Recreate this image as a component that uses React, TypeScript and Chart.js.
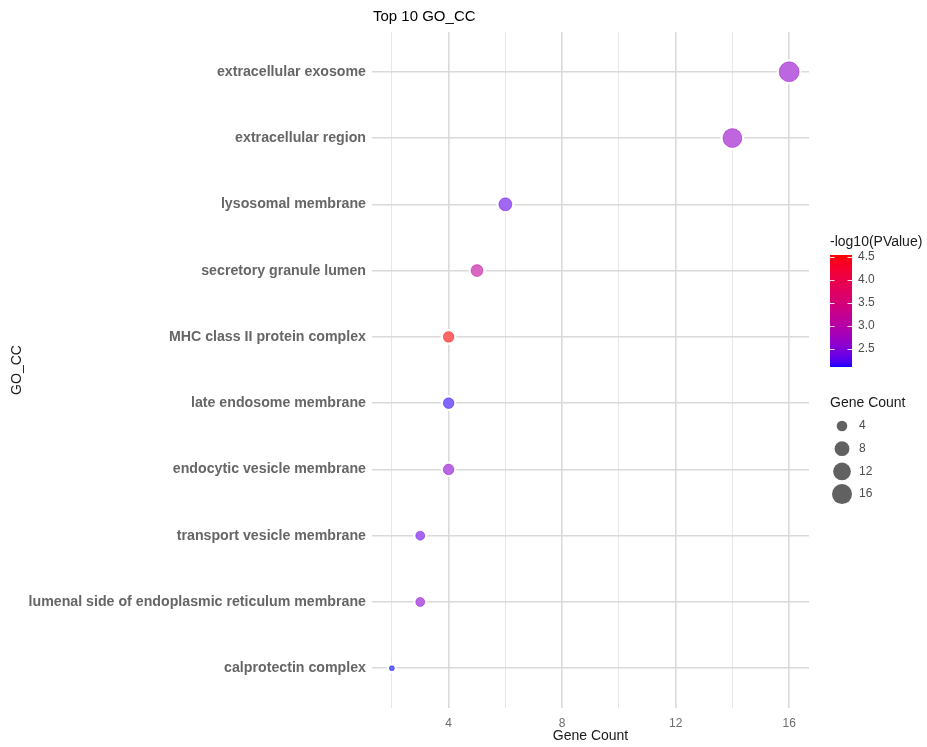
import React, { useEffect, useRef } from "react";
import { Chart, registerables } from "chart.js";

Chart.register(...registerables);

// ---------------- data ----------------
const terms = [
  "extracellular exosome",
  "extracellular region",
  "lysosomal membrane",
  "secretory granule lumen",
  "MHC class II protein complex",
  "late endosome membrane",
  "endocytic vesicle membrane",
  "transport vesicle membrane",
  "lumenal side of endoplasmic reticulum membrane",
  "calprotectin complex",
];
const geneCounts = [16, 14, 6, 5, 4, 4, 4, 3, 3, 2];
const negLog10P = [2.62, 2.66, 2.33, 3.15, 4.54, 2.16, 2.58, 2.36, 2.58, 2.11];

const xGridTicks = [2, 4, 6, 8, 10, 12, 14, 16];
const xLabelTicks = [4, 8, 12, 16];
const colorLegendTicks = [2.5, 3.0, 3.5, 4.0, 4.5];
const sizeLegendTicks = [4, 8, 12, 16];

const chartTitle = "Top 10 GO_CC";
const xTitle = "Gene Count";
const yTitle = "GO_CC";
const colorLegendTitle = "-log10(PValue)";
const sizeLegendTitle = "Gene Count";

// ---------------- colour (Lab interpolation blue -> red) ----------------
function srgbToLin(c: number) {
  c /= 255;
  return c <= 0.04045 ? c / 12.92 : Math.pow((c + 0.055) / 1.055, 2.4);
}
function linToSrgb(c: number) {
  const v = c <= 0.0031308 ? 12.92 * c : 1.055 * Math.pow(c, 1 / 2.4) - 0.055;
  return Math.max(0, Math.min(255, Math.round(v * 255)));
}
function rgbToLab(r: number, g: number, b: number) {
  const R = srgbToLin(r), G = srgbToLin(g), B = srgbToLin(b);
  const X = (0.4124 * R + 0.3576 * G + 0.1805 * B) / 0.95047;
  const Y = 0.2126 * R + 0.7152 * G + 0.0722 * B;
  const Z = (0.0193 * R + 0.1192 * G + 0.9505 * B) / 1.08883;
  const f = (t: number) => (t > 216 / 24389 ? Math.cbrt(t) : (24389 / 27 * t + 16) / 116);
  const fx = f(X), fy = f(Y), fz = f(Z);
  return [116 * fy - 16, 500 * (fx - fy), 200 * (fy - fz)];
}
function labToRgb(L: number, a: number, b: number) {
  const fy = (L + 16) / 116;
  const fx = fy + a / 500;
  const fz = fy - b / 200;
  const finv = (t: number) => (t * t * t > 216 / 24389 ? t * t * t : (116 * t - 16) / (24389 / 27));
  const X = finv(fx) * 0.95047, Y = finv(fy), Z = finv(fz) * 1.08883;
  const R = 3.2406 * X - 1.5372 * Y - 0.4986 * Z;
  const G = -0.9689 * X + 1.8758 * Y + 0.0415 * Z;
  const B = 0.0557 * X - 0.204 * Y + 1.057 * Z;
  return [linToSrgb(R), linToSrgb(G), linToSrgb(B)];
}
const LOW = rgbToLab(0, 0, 255);
const HIGH = rgbToLab(255, 0, 0);
const pMin = Math.min(...negLog10P);
const pMax = Math.max(...negLog10P);
function colorFor(v: number, alpha = 1) {
  const t = Math.max(0, Math.min(1, (v - pMin) / (pMax - pMin)));
  const [r, g, b] = labToRgb(
    LOW[0] + (HIGH[0] - LOW[0]) * t,
    LOW[1] + (HIGH[1] - LOW[1]) * t,
    LOW[2] + (HIGH[2] - LOW[2]) * t
  );
  return `rgba(${r},${g},${b},${alpha})`;
}

// ---------------- size (area scale) ----------------
const cMin = Math.min(...geneCounts);
const cMax = Math.max(...geneCounts);
function diameterFor(v: number) {
  const s = 1 + 5 * Math.sqrt(Math.max(0, (v - cMin) / (cMax - cMin)));
  return 3 * s + 2;
}

const FONT = "'Liberation Sans', Arial, sans-serif";

// white halo drawn under the points so grid lines break around them
const haloPlugin = {
  id: "halo",
  beforeDatasetsDraw(chart: any) {
    const ctx = chart.ctx as CanvasRenderingContext2D;
    const meta = chart.getDatasetMeta(0);
    ctx.save();
    meta.data.forEach((el: any, i: number) => {
      ctx.beginPath();
      ctx.arc(el.x, el.y, diameterFor(geneCounts[i]) / 2 + 2.5, 0, Math.PI * 2);
      ctx.fillStyle = "#ffffff";
      ctx.fill();
    });
    ctx.restore();
  },
};

const overlayPlugin = {
  id: "overlay",
  afterDraw(chart: any) {
    const ctx = chart.ctx as CanvasRenderingContext2D;
    const area = chart.chartArea;
    ctx.save();
    // chart title
    ctx.fillStyle = "#000";
    ctx.font = `15px ${FONT}`;
    ctx.textAlign = "left";
    ctx.textBaseline = "middle";
    ctx.fillText(chartTitle, area.left + 1, 17);
    // x title
    ctx.font = `14px ${FONT}`;
    ctx.fillStyle = "#1a1a1a";
    ctx.textAlign = "center";
    ctx.fillText(xTitle, (area.left + area.right) / 2, 736);
    // y title
    ctx.save();
    ctx.translate(17, (area.top + area.bottom) / 2);
    ctx.rotate(-Math.PI / 2);
    ctx.fillText(yTitle, 0, 0);
    ctx.restore();

    // colour legend
    const lx = 830;
    ctx.textAlign = "left";
    ctx.fillStyle = "#1a1a1a";
    ctx.font = `14px ${FONT}`;
    ctx.fillText(colorLegendTitle, lx, 242);
    const barTop = 255, barBottom = 367, barW = 22;
    const valAt = (y: number) => pMin + ((barBottom - y) / (barBottom - barTop)) * (pMax - pMin);
    for (let y = barTop; y < barBottom; y++) {
      ctx.fillStyle = colorFor(valAt(y + 0.5));
      ctx.fillRect(lx, y, barW, 1);
    }
    const yAt = (v: number) => barBottom - ((v - pMin) / (pMax - pMin)) * (barBottom - barTop);
    ctx.strokeStyle = "rgba(255,255,255,0.9)";
    ctx.lineWidth = 1;
    ctx.font = `12px ${FONT}`;
    for (const t of colorLegendTicks) {
      const y = Math.round(yAt(t)) + 0.5;
      ctx.beginPath();
      ctx.moveTo(lx, y);
      ctx.lineTo(lx + 4.5, y);
      ctx.moveTo(lx + barW - 4.5, y);
      ctx.lineTo(lx + barW, y);
      ctx.stroke();
      ctx.fillStyle = "#4d4d4d";
      ctx.fillText(t.toFixed(1), lx + 28, yAt(t));
    }

    // size legend
    ctx.fillStyle = "#1a1a1a";
    ctx.font = `14px ${FONT}`;
    ctx.fillText(sizeLegendTitle, lx, 403);
    ctx.font = `12px ${FONT}`;
    sizeLegendTicks.forEach((v, i) => {
      const cy = 426 + i * 22.7;
      ctx.beginPath();
      ctx.arc(842, cy, diameterFor(v) / 2, 0, Math.PI * 2);
      ctx.fillStyle = "rgba(0,0,0,0.62)";
      ctx.fill();
      ctx.fillStyle = "#4d4d4d";
      ctx.fillText(String(v), 859, cy);
    });
    ctx.restore();
  },
};

export default function App() {
  const canvasRef = useRef<HTMLCanvasElement | null>(null);
  useEffect(() => {
    if (!canvasRef.current) return;
    const chart = new Chart(canvasRef.current, {
      type: "scatter",
      data: {
        datasets: [
          {
            data: geneCounts.map((c, i) => ({ x: c, y: i })),
            backgroundColor: negLog10P.map((p) => colorFor(p, 0.6)),
            borderColor: negLog10P.map((p) => colorFor(p, 0.7)),
            borderWidth: 0.6,
            pointRadius: geneCounts.map((c) => diameterFor(c) / 2),
            pointHoverRadius: geneCounts.map((c) => diameterFor(c) / 2),
          },
        ],
      },
      options: {
        animation: false,
        responsive: false,
        events: [],
        layout: { padding: { left: 0, top: 32, right: 118, bottom: 0 } },
        plugins: {
          legend: { display: false },
          tooltip: { enabled: false },
          title: { display: false },
        },
        scales: {
          x: {
            type: "linear",
            min: 1.3,
            max: 16.7,
            afterBuildTicks: (s: any) => {
              s.ticks = xGridTicks.map((v) => ({ value: v }));
            },
            afterFit: (s: any) => {
              s.height = 39;
            },
            border: { display: false },
            grid: {
              drawTicks: false,
              color: (c: any) => (xLabelTicks.includes(c.tick?.value) ? "#dadada" : "#e4e4e4"),
              lineWidth: (c: any) => (xLabelTicks.includes(c.tick?.value) ? 1.6 : 0.9),
            },
            ticks: {
              padding: 8,
              autoSkip: false,
              maxRotation: 0,
              color: "#6b6b6b",
              font: { family: FONT, size: 12 },
              callback: (v: any) => (xLabelTicks.includes(Number(v)) ? String(v) : ""),
            },
          },
          y: {
            type: "linear",
            reverse: true,
            min: -0.6,
            max: terms.length - 1 + 0.6,
            afterBuildTicks: (s: any) => {
              s.ticks = terms.map((_, i) => ({ value: i }));
            },
            afterFit: (s: any) => {
              s.width = 372;
            },
            border: { display: false },
            grid: { drawTicks: false, color: "#dadada", lineWidth: 1.6 },
            ticks: {
              padding: 6,
              autoSkip: false,
              color: "#666666",
              font: { family: FONT, size: 14.2, weight: "bold" },
              callback: (v: any) => terms[Number(v)] ?? "",
            },
          },
        },
      },
      plugins: [haloPlugin, overlayPlugin],
    } as any);
    return () => chart.destroy();
  }, []);
  return (
    <div style={{ position: "fixed", left: 0, top: 0, width: 927, height: 747, background: "#fff" }}>
      <canvas ref={canvasRef} width={927} height={747} style={{ display: "block" }} />
    </div>
  );
}
